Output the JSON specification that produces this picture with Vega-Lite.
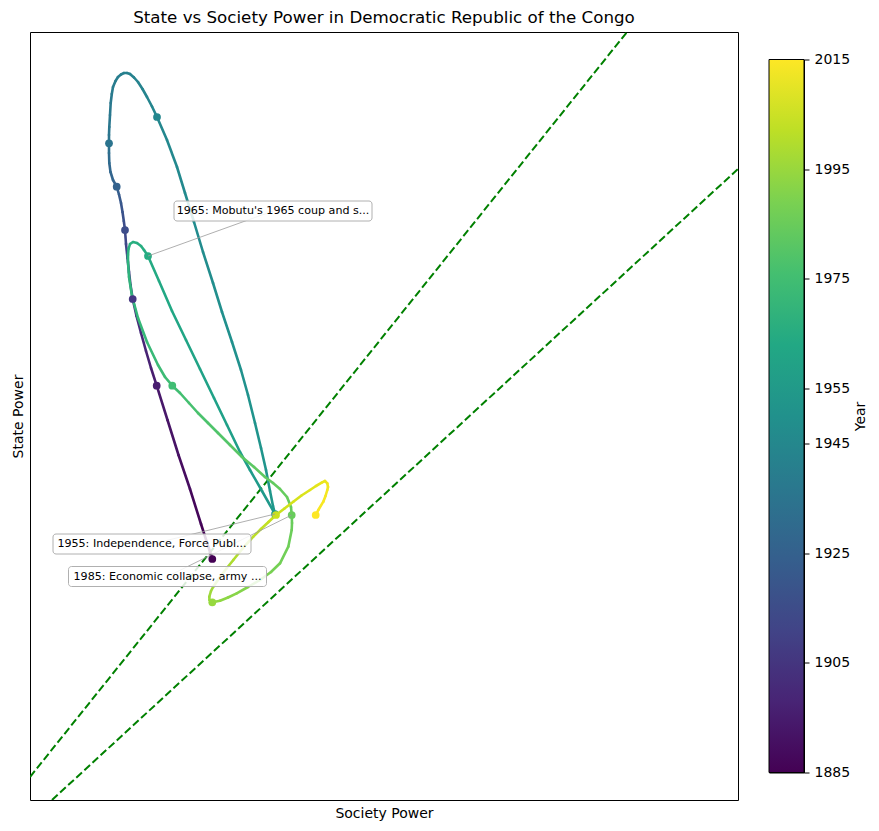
{
  "$schema": "https://vega.github.io/schema/vega-lite/v6.json",
  "background": "white",
  "padding": {"left": 10, "top": 9, "right": 5, "bottom": 5},
  "config": {
    "font": "DejaVu Sans",
    "view": {"stroke": "black", "strokeWidth": 1},
    "axis": {"grid": false, "titleFontWeight": "normal", "titleColor": "black", "titleFontSize": 14, "titleFont": "DejaVu Sans", "labelFont": "DejaVu Sans"}
  },
  "datasets": {
    "curve": [
      {"year": 1885, "society": 182.3, "state": 241},
      {"year": 1887, "society": 171, "state": 276},
      {"year": 1889, "society": 160, "state": 311},
      {"year": 1891, "society": 148.5, "state": 345},
      {"year": 1893, "society": 137.5, "state": 380},
      {"year": 1895, "society": 126.7, "state": 414.3},
      {"year": 1897, "society": 121, "state": 432},
      {"year": 1899, "society": 116, "state": 449},
      {"year": 1901, "society": 111, "state": 467},
      {"year": 1903, "society": 106.5, "state": 484},
      {"year": 1905, "society": 102.7, "state": 501},
      {"year": 1907, "society": 100.5, "state": 515},
      {"year": 1909, "society": 99, "state": 528},
      {"year": 1911, "society": 97.5, "state": 542},
      {"year": 1913, "society": 96, "state": 556},
      {"year": 1915, "society": 95, "state": 570},
      {"year": 1917, "society": 93.8, "state": 579},
      {"year": 1919, "society": 92.5, "state": 588},
      {"year": 1921, "society": 91, "state": 597},
      {"year": 1923, "society": 89, "state": 605.5},
      {"year": 1925, "society": 86.7, "state": 613.3},
      {"year": 1926.5, "society": 83, "state": 620},
      {"year": 1928, "society": 80.5, "state": 628},
      {"year": 1930, "society": 79.3, "state": 637},
      {"year": 1932.5, "society": 79, "state": 647},
      {"year": 1935, "society": 79, "state": 656.7},
      {"year": 1935.7, "society": 79, "state": 665},
      {"year": 1936.3, "society": 79.3, "state": 673},
      {"year": 1937, "society": 80, "state": 685},
      {"year": 1937.7, "society": 80.7, "state": 697},
      {"year": 1938.3, "society": 81.8, "state": 706},
      {"year": 1938.8, "society": 83, "state": 713},
      {"year": 1939.3, "society": 85.5, "state": 719},
      {"year": 1939.8, "society": 88, "state": 723},
      {"year": 1940.3, "society": 91, "state": 725.5},
      {"year": 1940.8, "society": 94, "state": 727},
      {"year": 1941.3, "society": 97, "state": 727},
      {"year": 1941.8, "society": 100, "state": 726},
      {"year": 1942.3, "society": 104, "state": 722.5},
      {"year": 1942.8, "society": 108, "state": 718},
      {"year": 1943.3, "society": 112.5, "state": 711},
      {"year": 1943.8, "society": 117, "state": 703},
      {"year": 1944.4, "society": 122, "state": 693.5},
      {"year": 1945, "society": 127, "state": 683},
      {"year": 1945.6, "society": 137, "state": 660},
      {"year": 1946.2, "society": 147, "state": 633},
      {"year": 1946.9, "society": 155, "state": 607},
      {"year": 1947.5, "society": 164, "state": 578},
      {"year": 1948.1, "society": 173, "state": 548},
      {"year": 1948.8, "society": 183, "state": 517},
      {"year": 1949.4, "society": 192, "state": 488},
      {"year": 1950, "society": 202, "state": 458},
      {"year": 1950.6, "society": 211, "state": 430},
      {"year": 1951.2, "society": 218, "state": 405},
      {"year": 1951.9, "society": 225, "state": 377},
      {"year": 1952.5, "society": 231, "state": 352},
      {"year": 1953.1, "society": 236, "state": 330},
      {"year": 1953.8, "society": 240, "state": 309},
      {"year": 1954.4, "society": 243, "state": 294},
      {"year": 1955, "society": 245, "state": 286},
      {"year": 1956, "society": 232, "state": 309},
      {"year": 1957, "society": 220, "state": 330},
      {"year": 1958, "society": 210, "state": 348},
      {"year": 1959, "society": 197, "state": 375},
      {"year": 1960, "society": 184, "state": 402},
      {"year": 1961, "society": 170, "state": 431},
      {"year": 1962, "society": 156, "state": 460},
      {"year": 1963, "society": 142, "state": 489},
      {"year": 1964, "society": 129, "state": 519},
      {"year": 1965, "society": 118, "state": 544},
      {"year": 1965.5, "society": 114, "state": 550},
      {"year": 1966, "society": 111, "state": 554},
      {"year": 1966.5, "society": 107, "state": 557},
      {"year": 1967, "society": 103, "state": 558},
      {"year": 1967.5, "society": 100, "state": 556},
      {"year": 1968, "society": 98.5, "state": 551},
      {"year": 1968.5, "society": 98, "state": 545},
      {"year": 1969, "society": 98, "state": 538},
      {"year": 1970, "society": 99, "state": 523},
      {"year": 1971, "society": 102, "state": 504},
      {"year": 1972, "society": 108, "state": 482},
      {"year": 1973, "society": 117, "state": 458},
      {"year": 1974, "society": 128, "state": 435},
      {"year": 1974.5, "society": 135, "state": 423},
      {"year": 1975, "society": 142.3, "state": 414.3},
      {"year": 1976, "society": 150, "state": 407},
      {"year": 1977, "society": 159, "state": 397},
      {"year": 1978, "society": 168, "state": 387},
      {"year": 1979, "society": 178, "state": 377},
      {"year": 1980, "society": 188, "state": 367},
      {"year": 1981, "society": 200, "state": 355},
      {"year": 1982, "society": 212, "state": 343},
      {"year": 1983, "society": 224, "state": 333},
      {"year": 1983.5, "society": 235, "state": 323},
      {"year": 1984, "society": 243, "state": 317},
      {"year": 1984.4, "society": 250, "state": 311},
      {"year": 1984.7, "society": 257, "state": 303},
      {"year": 1984.9, "society": 261, "state": 293},
      {"year": 1985, "society": 261.7, "state": 285},
      {"year": 1985.5, "society": 262, "state": 277},
      {"year": 1986, "society": 261.7, "state": 270},
      {"year": 1987, "society": 258.3, "state": 253.3},
      {"year": 1988, "society": 250, "state": 236.7},
      {"year": 1989, "society": 241, "state": 228},
      {"year": 1990, "society": 230, "state": 220},
      {"year": 1991, "society": 218, "state": 213},
      {"year": 1992, "society": 206.7, "state": 206.7},
      {"year": 1993, "society": 198, "state": 202.5},
      {"year": 1994, "society": 190, "state": 199.3},
      {"year": 1995, "society": 182.3, "state": 197.7},
      {"year": 1995.5, "society": 179.5, "state": 200},
      {"year": 1996, "society": 179.3, "state": 203.3},
      {"year": 1996.5, "society": 181, "state": 209},
      {"year": 1997, "society": 183.3, "state": 213.3},
      {"year": 1998, "society": 190, "state": 223},
      {"year": 1999, "society": 196.5, "state": 231.5},
      {"year": 2000, "society": 203.3, "state": 240},
      {"year": 2001, "society": 213, "state": 252},
      {"year": 2002, "society": 223.3, "state": 263.3},
      {"year": 2003, "society": 231, "state": 271},
      {"year": 2004, "society": 238.5, "state": 278},
      {"year": 2005, "society": 246, "state": 285},
      {"year": 2006, "society": 254.5, "state": 291.5},
      {"year": 2007, "society": 263.3, "state": 298.3},
      {"year": 2008, "society": 271.5, "state": 304.5},
      {"year": 2009, "society": 280, "state": 310},
      {"year": 2010, "society": 286, "state": 314},
      {"year": 2011, "society": 291.7, "state": 317.3},
      {"year": 2011.5, "society": 295, "state": 319},
      {"year": 2012, "society": 297.3, "state": 316.7},
      {"year": 2012.5, "society": 298, "state": 313},
      {"year": 2013, "society": 297.3, "state": 310},
      {"year": 2013.5, "society": 295.5, "state": 304},
      {"year": 2014, "society": 293.3, "state": 298.3},
      {"year": 2014.5, "society": 288.3, "state": 290},
      {"year": 2015, "society": 285.7, "state": 285}
    ],
    "guides": [
      {"sx1": 0, "sy1": 23, "sx2": 597, "sy2": 768},
      {"sx1": 22, "sy1": 0, "sx2": 708, "sy2": 631}
    ],
    "notes": [
      {"year": 1965, "label": "1965: Mobutu's 1965 coup and s...", "cx": 243, "cy": 589, "society": 118, "state": 544},
      {"year": 1955, "label": "1955: Independence, Force Publ...", "cx": 122, "cy": 256, "society": 245, "state": 286},
      {"year": 1985, "label": "1985: Economic collapse, army ...", "cx": 137.5, "cy": 223.5, "society": 261.7, "state": 285}
    ]
  },
  "hconcat": [
    {
      "width": 708,
      "height": 768,
      "title": {"text": "State vs Society Power in Democratic Republic of the Congo", "fontSize": 16.7, "fontWeight": "normal", "font": "DejaVu Sans", "color": "black", "offset": 5, "anchor": "middle"},
      "layer": [
        {
          "data": {"name": "guides"},
          "mark": {"type": "rule", "color": "#008000", "strokeWidth": 2, "strokeDash": [7.7, 3.3], "clip": true},
          "encoding": {
            "x": {"field": "sx1", "type": "quantitative", "scale": {"domain": [0, 708], "nice": false, "zero": false}, "axis": {"title": "Society Power", "ticks": false, "labels": false, "domain": false, "titlePadding": 6}},
            "y": {"field": "sy1", "type": "quantitative", "scale": {"domain": [0, 768], "nice": false, "zero": false}, "axis": {"title": "State Power", "ticks": false, "labels": false, "domain": false, "titlePadding": 5}},
            "x2": {"field": "sx2"},
            "y2": {"field": "sy2"}
          }
        },
        {
          "data": {"name": "curve"},
          "transform": [
            {"window": [{"op": "lead", "field": "society", "as": "society_next"}, {"op": "lead", "field": "state", "as": "state_next"}], "sort": [{"field": "year", "order": "ascending"}]},
            {"filter": "datum.society_next != null"}
          ],
          "mark": {"type": "rule", "strokeWidth": 2.6, "strokeCap": "round"},
          "encoding": {
            "x": {"field": "society", "type": "quantitative", "scale": {"domain": [0, 708], "nice": false, "zero": false}},
            "y": {"field": "state", "type": "quantitative", "scale": {"domain": [0, 768], "nice": false, "zero": false}},
            "x2": {"field": "society_next"},
            "y2": {"field": "state_next"},
            "color": {"field": "year", "type": "quantitative", "scale": {"scheme": "viridis", "domain": [1885, 2015]}, "legend": null}
          }
        },
        {
          "data": {"name": "curve"},
          "transform": [{"filter": "datum.year % 10 == 5"}],
          "mark": {"type": "point", "filled": true, "size": 60, "opacity": 1},
          "encoding": {
            "x": {"field": "society", "type": "quantitative", "scale": {"domain": [0, 708], "nice": false, "zero": false}},
            "y": {"field": "state", "type": "quantitative", "scale": {"domain": [0, 768], "nice": false, "zero": false}},
            "color": {"field": "year", "type": "quantitative", "scale": {"scheme": "viridis", "domain": [1885, 2015]}, "legend": null}
          }
        },
        {
          "data": {"name": "notes"},
          "mark": {"type": "rule", "color": "#9a9a9a", "strokeWidth": 0.8},
          "encoding": {
            "x": {"field": "cx", "type": "quantitative", "scale": {"domain": [0, 708], "nice": false, "zero": false}},
            "y": {"field": "cy", "type": "quantitative", "scale": {"domain": [0, 768], "nice": false, "zero": false}},
            "x2": {"field": "society"},
            "y2": {"field": "state"}
          }
        },
        {
          "data": {"name": "notes"},
          "mark": {"type": "rect", "fill": "white", "fillOpacity": 0.85, "stroke": "#b0b0b0", "strokeWidth": 1, "cornerRadius": 3, "xOffset": -99, "x2Offset": 99, "yOffset": -10, "y2Offset": 10},
          "encoding": {
            "x": {"field": "cx", "type": "quantitative", "scale": {"domain": [0, 708], "nice": false, "zero": false}},
            "y": {"field": "cy", "type": "quantitative", "scale": {"domain": [0, 768], "nice": false, "zero": false}},
            "x2": {"field": "cx"},
            "y2": {"field": "cy"}
          }
        },
        {
          "data": {"name": "notes"},
          "mark": {"type": "text", "font": "DejaVu Sans", "fontSize": 11.1, "align": "center", "baseline": "middle", "color": "black"},
          "encoding": {
            "x": {"field": "cx", "type": "quantitative", "scale": {"domain": [0, 708], "nice": false, "zero": false}},
            "y": {"field": "cy", "type": "quantitative", "scale": {"domain": [0, 768], "nice": false, "zero": false}},
            "text": {"field": "label"}
          }
        }
      ]
    },
    {
      "width": 35,
      "height": 713,
      "data": {"values": [{"start": 1885, "end": 2015}]},
      "mark": {
        "type": "rect",
        "stroke": "black",
        "strokeWidth": 1,
        "color": {
          "gradient": "linear", "x1": 0, "y1": 1, "x2": 0, "y2": 0,
          "stops": [
            {"offset": 0.0, "color": "#440154"},
            {"offset": 0.1, "color": "#482475"},
            {"offset": 0.2, "color": "#414487"},
            {"offset": 0.3, "color": "#355f8d"},
            {"offset": 0.4, "color": "#2a788e"},
            {"offset": 0.5, "color": "#21918c"},
            {"offset": 0.6, "color": "#22a884"},
            {"offset": 0.7, "color": "#44bf70"},
            {"offset": 0.8, "color": "#7ad151"},
            {"offset": 0.9, "color": "#bddf26"},
            {"offset": 1.0, "color": "#fde725"}
          ]
        }
      },
      "encoding": {
        "x": {"value": 0},
        "x2": {"value": "width"},
        "y": {"field": "start", "type": "quantitative", "scale": {"domain": [1885, 2015], "nice": false, "zero": false},
          "axis": {"orient": "right", "values": [1885, 1905, 1925, 1945, 1955, 1975, 1995, 2015], "format": "d", "title": "Year", "titleAngle": -90, "titleBaseline": "top", "titlePadding": 4, "tickSize": 5, "tickColor": "black", "domain": false, "labelFontSize": 14, "labelColor": "black", "labelPadding": 5}},
        "y2": {"field": "end"}
      }
    }
  ],
  "spacing": 31,
  "bounds": "flush",
  "center": true
}
